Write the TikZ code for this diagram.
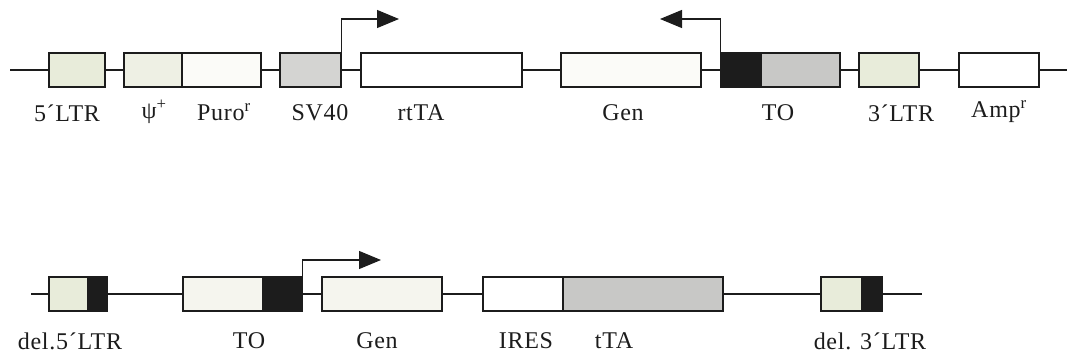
\documentclass[tikz,border=0pt]{standalone}
\usepackage{fontspec}
\setmainfont{Liberation Serif}
\usetikzlibrary{arrows.meta}
\definecolor{ltrfill}{RGB}{232,236,218}
\definecolor{psifill}{RGB}{238,240,228}
\definecolor{palefill}{RGB}{251,251,248}
\definecolor{creamfill}{RGB}{245,245,238}
\definecolor{greyfill}{RGB}{212,212,210}
\definecolor{darkgrey}{RGB}{200,200,198}
\definecolor{inkblack}{RGB}{28,28,28}
\tikzset{
  seg/.style={draw=inkblack, line width=1.3pt, rectangle, inner sep=0pt, minimum height=34pt},
  wire/.style={draw=inkblack, line width=1.2pt},
  promoter/.style={draw=inkblack, line width=1.2pt, -{Triangle[length=22pt,width=18pt]}},
  lbl/.style={font=\fontsize{24}{26}\selectfont\addfontfeature{LetterSpace=3}, text=inkblack, inner sep=0pt}
}
\begin{document}
\begin{tikzpicture}[x=1pt,y=-1pt]
\useasboundingbox (0,0) rectangle (1068,356);

% ---- upper construct ----
\coordinate (a0) at (10,70);
\coordinate (a1) at (1067,70);
\node[seg, fill=ltrfill,  minimum width=56pt]  (ltr5)  at (77,70) {};
\node[seg, fill=psifill,  minimum width=58pt]  (psi)   at (153,70) {};
\node[seg, fill=palefill, minimum width=79pt]  (puro)  at (221.5,70) {};
\node[seg, fill=greyfill, minimum width=61pt]  (sv40)  at (310.5,70) {};
\node[seg, fill=white,    minimum width=161pt] (rtta)  at (441.5,70) {};
\node[seg, fill=palefill, minimum width=140pt] (gen)   at (631,70) {};
\node[seg, fill=inkblack, minimum width=40pt]  (toblk) at (741,70) {};
\node[seg, fill=darkgrey, minimum width=79pt]  (togry) at (800.5,70) {};
\node[seg, fill=ltrfill,  minimum width=60pt]  (ltr3)  at (889,70) {};
\node[seg, fill=white,    minimum width=80pt]  (amp)   at (999,70) {};

\draw[wire] (a0) -- (ltr5.west);
\draw[wire] (ltr5.east) -- (psi.west);
\draw[wire] (puro.east) -- (sv40.west);
\draw[wire] (sv40.east) -- (rtta.west);
\draw[wire] (rtta.east) -- (gen.west);
\draw[wire] (gen.east) -- (toblk.west);
\draw[wire] (togry.east) -- (ltr3.west);
\draw[wire] (ltr3.east) -- (amp.west);
\draw[wire] (amp.east) -- (a1);

\coordinate (p1) at (399,19);
\coordinate (p2) at (660,19);
\draw[promoter] (sv40.north east) |- (p1);
\draw[promoter] (toblk.north west) |- (p2);

\node[lbl] (t1)  at (67,113)  {5´LTR};
\node[lbl] (t2)  at (154,112) {ψ\textsuperscript{+}};
\node[lbl] (t3)  at (224,112) {Puro\textsuperscript{r}};
\node[lbl] (t4)  at (320,113) {SV40};
\node[lbl] (t5)  at (421,113) {rtTA};
\node[lbl] (t6)  at (623,113) {Gen};
\node[lbl] (t7)  at (778,113) {TO};
\node[lbl] (t8)  at (901,113) {3´LTR};
\node[lbl] (t9)  at (999,112) {Amp\textsuperscript{r}};

% ---- lower construct ----
\coordinate (b0) at (31,294);
\coordinate (b1) at (922,294);
\node[seg, fill=ltrfill,  minimum width=39pt]  (d5a)  at (68.5,294) {};
\node[seg, fill=inkblack, minimum width=19pt]  (d5b)  at (97.5,294) {};
\node[seg, fill=creamfill,minimum width=80pt]  (toa)  at (223,294) {};
\node[seg, fill=inkblack, minimum width=39pt]  (tob)  at (282.5,294) {};
\node[seg, fill=creamfill,minimum width=120pt] (genb) at (382,294) {};
\node[seg, fill=white,    minimum width=80pt]  (ires) at (523,294) {};
\node[seg, fill=darkgrey, minimum width=160pt] (tta)  at (643,294) {};
\node[seg, fill=ltrfill,  minimum width=41pt]  (d3a)  at (841.5,294) {};
\node[seg, fill=inkblack, minimum width=20pt]  (d3b)  at (872,294) {};

\draw[wire] (b0) -- (d5a.west);
\draw[wire] (d5b.east) -- (toa.west);
\draw[wire] (tob.east) -- (genb.west);
\draw[wire] (genb.east) -- (ires.west);
\draw[wire] (tta.east) -- (d3a.west);
\draw[wire] (d3b.east) -- (b1);

\coordinate (p3) at (381,260);
\draw[promoter] (tob.north east) |- (p3);

\node[lbl] (u1) at (70,341)  {del.5´LTR};
\node[lbl] (u2) at (249,341) {TO};
\node[lbl] (u3) at (377,341) {Gen};
\node[lbl] (u4) at (526,341) {IRES};
\node[lbl] (u5) at (614,341) {tTA};
\node[lbl] (u6) at (870,341) {del. 3´LTR};
\end{tikzpicture}
\end{document}
